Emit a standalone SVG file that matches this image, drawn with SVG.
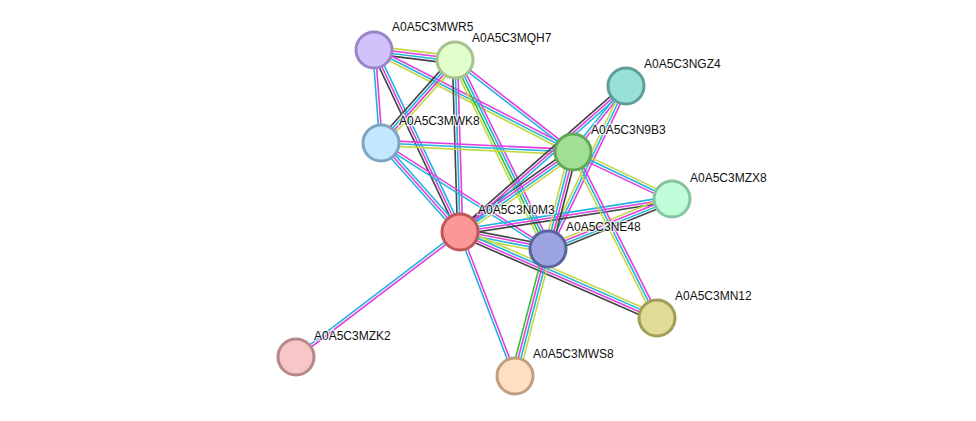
<svg xmlns="http://www.w3.org/2000/svg" width="976" height="421" viewBox="0 0 976 421">
<style>
.m{stroke:#E040E0;stroke-width:1.6;fill:none}
.c{stroke:#22B4DC;stroke-width:1.6;fill:none}
.y{stroke:#C4D844;stroke-width:1.6;fill:none}
.k{stroke:#444;stroke-width:1.6;fill:none}
.g{stroke:#34C034;stroke-width:1.6;fill:none}
.n circle{stroke-width:3}
.n text{font-family:"Liberation Sans",Arial,sans-serif;font-size:12px;fill:#111;stroke:#fff;stroke-width:2.5;stroke-opacity:0.7;paint-order:stroke}
</style>
<rect width="976" height="421" fill="#fff"/>
<g id="connectors">
<!-- MWR5-MQH7 -->
<g transform="translate(374 50) rotate(7.04)"><path class="y" d="M0 -3.9H81.6"/><path class="m" d="M0 -1.3H81.6"/><path class="c" d="M0 1.3H81.6"/><path class="k" d="M0 3.9H81.6"/></g>
<!-- MWR5-MWK8 -->
<g transform="translate(374 50) rotate(85.7)"><path class="m" d="M0 -1.3H93.3"/><path class="c" d="M0 1.3H93.3"/></g>
<!-- MWR5-N0M3 -->
<g transform="translate(374 50) rotate(64.7)"><path class="c" d="M0 -2.6H201.3"/><path class="m" d="M0 0H201.3"/><path class="k" d="M0 2.6H201.3"/></g>
<!-- MWR5-N9B3 -->
<g transform="translate(374 50) rotate(27.1)"><path class="m" d="M0 -2.6H223.6"/><path class="c" d="M0 0H223.6"/><path class="y" d="M0 2.6H223.6"/></g>
<!-- MQH7-MWK8 -->
<g transform="translate(455 60) rotate(131.7)"><path class="y" d="M0 -3.9H111.2"/><path class="m" d="M0 -1.3H111.2"/><path class="c" d="M0 1.3H111.2"/><path class="k" d="M0 3.9H111.2"/></g>
<!-- MQH7-N0M3 -->
<g transform="translate(455 60) rotate(88.3)"><path class="m" d="M0 -2.6H172.1"/><path class="c" d="M0 0H172.1"/><path class="k" d="M0 2.6H172.1"/></g>
<!-- MQH7-NE48 -->
<g transform="translate(455 60) rotate(63.8)"><path class="m" d="M0 -3.9H210.6"/><path class="c" d="M0 -1.3H210.6"/><path class="g" d="M0 1.3H210.6"/><path class="y" d="M0 3.9H210.6"/></g>
<!-- MQH7-N9B3 -->
<g transform="translate(455 60) rotate(37.9)"><path class="m" d="M0 -1.3H149.6"/><path class="c" d="M0 1.3H149.6"/></g>
<!-- MWK8-N9B3 -->
<g transform="translate(381 143) rotate(2.68)"><path class="m" d="M0 -2.6H192.2"/><path class="c" d="M0 0H192.2"/><path class="y" d="M0 2.6H192.2"/></g>
<!-- MWK8-N0M3 -->
<g transform="translate(381 143) rotate(48.4)"><path class="c" d="M0 -2.6H119"/><path class="m" d="M0 0H119"/><path class="c" d="M0 2.6H119"/></g>
<!-- MWK8-NE48 -->
<g transform="translate(381 143) rotate(32.4)"><path class="m" d="M0 -1.3H197.8"/><path class="c" d="M0 1.3H197.8"/></g>
<!-- N0M3-N9B3 -->
<g transform="translate(460 232) rotate(-35.3)"><path class="k" d="M0 -3.9H138.5"/><path class="m" d="M0 -1.3H138.5"/><path class="c" d="M0 1.3H138.5"/><path class="y" d="M0 3.9H138.5"/></g>
<!-- N0M3-NGZ4 -->
<g transform="translate(460 232) rotate(-41.3)"><path class="k" d="M0 -2.6H221.1"/><path class="m" d="M0 0H221.1"/><path class="c" d="M0 2.6H221.1"/></g>
<!-- NGZ4-N9B3 -->
<g transform="translate(626 86) rotate(128.8)"><path class="m" d="M0 -1.3H84.6"/><path class="c" d="M0 1.3H84.6"/></g>
<!-- NGZ4-NE48 -->
<g transform="translate(626 86) rotate(115.6)"><path class="m" d="M0 -2.6H180.7"/><path class="c" d="M0 0H180.7"/><path class="y" d="M0 2.6H180.7"/></g>
<!-- N0M3-MZX8 -->
<g transform="translate(460 232) rotate(-8.85)"><path class="c" d="M0 -2.6H214.6"/><path class="m" d="M0 0H214.6"/><path class="k" d="M0 2.6H214.6"/></g>
<!-- NE48-MZX8 -->
<g transform="translate(548 249) rotate(-22)"><path class="y" d="M0 -3.9H133.7"/><path class="m" d="M0 -1.3H133.7"/><path class="c" d="M0 1.3H133.7"/><path class="k" d="M0 3.9H133.7"/></g>
<!-- N0M3-NE48 -->
<g transform="translate(460 232) rotate(10.9)"><path class="k" d="M0 -3.9H89.6"/><path class="m" d="M0 -1.3H89.6"/><path class="c" d="M0 1.3H89.6"/><path class="y" d="M0 3.9H89.6"/></g>
<!-- N0M3-MN12 -->
<g transform="translate(460 232) rotate(23.6)"><path class="y" d="M0 -3.9H215"/><path class="c" d="M0 -1.3H215"/><path class="m" d="M0 1.3H215"/><path class="k" d="M0 3.9H215"/></g>
<!-- N9B3-MN12 -->
<g transform="translate(573 152) rotate(63.2)"><path class="m" d="M0 -2.6H186"/><path class="c" d="M0 0H186"/><path class="y" d="M0 2.6H186"/></g>
<!-- N9B3-NE48 -->
<g transform="translate(573 152) rotate(104.5)"><path class="k" d="M0 -3.9H100.2"/><path class="m" d="M0 -1.3H100.2"/><path class="c" d="M0 1.3H100.2"/><path class="y" d="M0 3.9H100.2"/></g>
<!-- N9B3-MZX8 -->
<g transform="translate(573 152) rotate(25.4)"><path class="y" d="M0 -2.6H109.6"/><path class="c" d="M0 0H109.6"/><path class="m" d="M0 2.6H109.6"/></g>
<!-- NE48-MWS8 -->
<g transform="translate(548 249) rotate(104.6)"><path class="y" d="M0 -3.9H131.2"/><path class="c" d="M0 -1.3H131.2"/><path class="m" d="M0 1.3H131.2"/><path class="g" d="M0 3.9H131.2"/></g>
<!-- N0M3-MWS8 -->
<g transform="translate(460 232) rotate(69.1)"><path class="m" d="M0 -1.3H154.1"/><path class="c" d="M0 1.3H154.1"/></g>
<!-- N0M3-MZK2 -->
<g transform="translate(460 232) rotate(142.7)"><path class="m" d="M0 -1.3H206.2"/><path class="c" d="M0 1.3H206.2"/></g>
</g>
<g id="MWR5" class="n"><circle cx="374" cy="50" r="18" fill="#D2C2FC" stroke="#9A86C6"/><text x="392" y="31">A0A5C3MWR5</text></g>
<g id="MQH7" class="n"><circle cx="455" cy="60" r="18" fill="#E2FECA" stroke="#A6C28E"/><text x="472" y="42">A0A5C3MQH7</text></g>
<g id="NGZ4" class="n"><circle cx="626" cy="86" r="18" fill="#97E0D8" stroke="#5E9F98"/><text x="644" y="68">A0A5C3NGZ4</text></g>
<g id="MWK8" class="n"><circle cx="381" cy="143" r="18" fill="#C4E6FE" stroke="#7EA4C0"/><text x="399" y="125">A0A5C3MWK8</text></g>
<g id="N9B3" class="n"><circle cx="573" cy="152" r="18" fill="#A0E095" stroke="#62A65A"/><text x="591" y="134">A0A5C3N9B3</text></g>
<g id="MZX8" class="n"><circle cx="672" cy="199" r="18" fill="#C0FCD8" stroke="#84C4A0"/><text x="690" y="182">A0A5C3MZX8</text></g>
<g id="N0M3" class="n"><circle cx="460" cy="232" r="18" fill="#FD9696" stroke="#C05858"/><text x="478" y="214">A0A5C3N0M3</text></g>
<g id="NE48" class="n"><circle cx="548" cy="249" r="18" fill="#9BA4E0" stroke="#5A649E"/><text x="566" y="231">A0A5C3NE48</text></g>
<g id="MN12" class="n"><circle cx="657" cy="318" r="18" fill="#E0DC98" stroke="#A29E58"/><text x="675" y="300">A0A5C3MN12</text></g>
<g id="MZK2" class="n"><circle cx="296" cy="357" r="18" fill="#F7C6C6" stroke="#B88888"/><text x="314" y="340">A0A5C3MZK2</text></g>
<g id="MWS8" class="n"><circle cx="515" cy="376" r="18" fill="#FEDFC0" stroke="#C0A080"/><text x="533" y="358">A0A5C3MWS8</text></g>
</svg>
